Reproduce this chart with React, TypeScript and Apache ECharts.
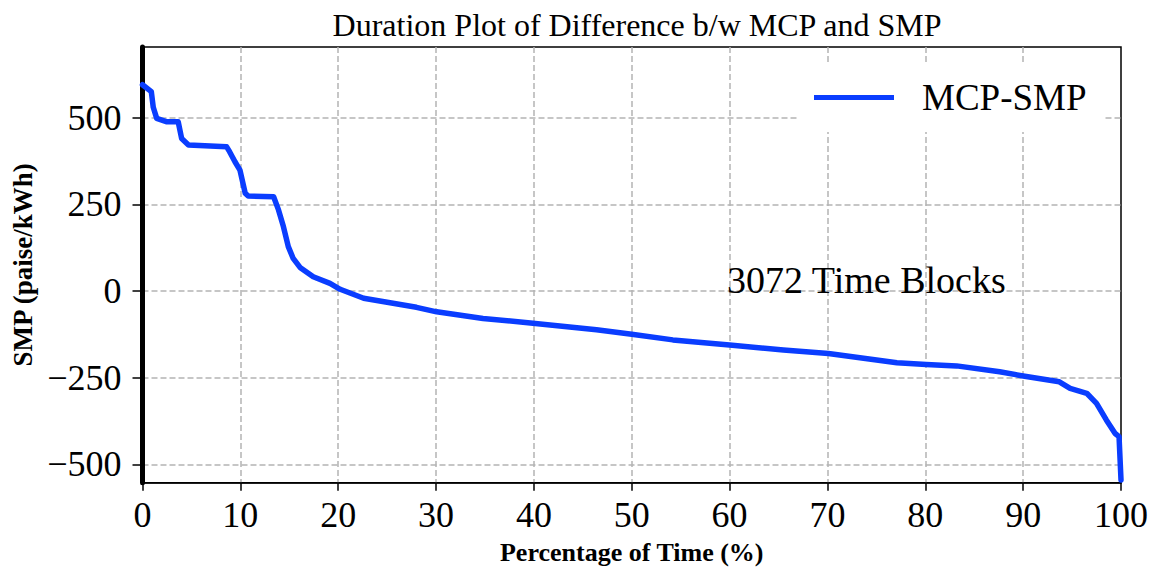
import React, { useEffect, useRef } from "react";
import * as echarts from "echarts";

const pct = [0, 0.9, 1.1, 1.45, 2.5, 3.65, 4.0, 4.7, 8.6, 8.9, 9.45, 9.96, 10.5, 10.8, 13.4, 13.9, 14.4, 14.9, 15.4, 16.1, 17.45, 19.16, 20.2, 22.6, 28.0, 30.06, 34.8, 39.9, 46.4, 50.0, 54.2, 60.0, 65.5, 70.1, 77.1, 80.1, 83.2, 87.6, 90.0, 93.7, 94.8, 96.5, 97.5, 98.5, 99.4, 99.8, 100];
const smp = [595, 575, 530, 498, 488, 488, 440, 421, 416, 402, 373, 349, 282, 274, 272, 234, 186, 128, 94, 68, 41, 22, 5, -21, -47, -60, -79, -93, -112, -125, -141, -156, -170, -180, -207, -212, -216, -233, -245, -262, -281, -295, -324, -372, -411, -420, -545];
const yTicks = [-500, -250, 0, 250, 500];
const seriesName = "MCP-SMP";
const titleText = "Duration Plot of Difference b/w MCP and SMP";
const noteText = "3072 Time Blocks";

const SERIF = "'Liberation Serif', 'Times New Roman', serif";
const BLUE = "#0a3dff";
const GRID = "#b4b4b4";

export default function App() {
  const ref = useRef<HTMLDivElement>(null);
  useEffect(() => {
    if (!ref.current) return;
    const chart = echarts.init(ref.current, null, { renderer: "svg" });
    const fmt = (v: number) => (v < 0 ? "\u2212" + Math.abs(v) : String(v));
    chart.setOption({
      animation: false,
      backgroundColor: "#fff",
      title: {
        text: titleText,
        left: 632,
        textAlign: "center",
        top: 4,
        textStyle: { fontFamily: SERIF, fontSize: 32, fontWeight: "normal", color: "#000" },
      },
      legend: {
        left: 797,
        top: 63,
        padding: [16, 18, 16, 17],
        backgroundColor: "#fff",
        icon: "rect",
        itemWidth: 80,
        itemHeight: 5,
        data: [seriesName],
        itemStyle: { color: BLUE },
        textStyle: { fontFamily: SERIF, fontSize: 37, color: "#000", padding: [0, 0, 0, 23] },
      },
      grid: {
        left: 142.5,
        right: 37,
        top: 47,
        bottom: 90.3,
        show: true,
        borderColor: "#000",
        borderWidth: 1.5,
        containLabel: false,
      },
      xAxis: {
        type: "value",
        min: 0,
        max: 100,
        interval: 10,
        name: "Percentage of Time (%)",
        nameLocation: "middle",
        nameGap: 57,
        nameTextStyle: { fontFamily: SERIF, fontSize: 26, fontWeight: "bold", color: "#000" },
        axisLine: { show: true, onZero: false, lineStyle: { color: "#000", width: 1.5 } },
        axisTick: { show: true, length: 8, lineStyle: { color: "#000", width: 1.5 } },
        axisLabel: {
          fontFamily: SERIF,
          fontSize: 36,
          color: "#000",
          margin: 14,
          formatter: (v: number) => String(v),
        },
        splitLine: {
          show: true,
          showMinLine: false,
          showMaxLine: false,
          lineStyle: { color: GRID, type: [6, 3], width: 1.5 },
        },
      },
      yAxis: {
        type: "value",
        min: -553,
        max: 704,
        name: "SMP (paise/kWh)",
        nameLocation: "middle",
        nameGap: 106,
        nameRotate: 90,
        nameTextStyle: { fontFamily: SERIF, fontSize: 27, fontWeight: "bold", color: "#000" },
        axisLine: { show: true, onZero: false, lineStyle: { color: "#000", width: 5 } },
        axisTick: { show: true, length: 10, customValues: yTicks, lineStyle: { color: "#000", width: 1.5 } },
        axisLabel: {
          fontFamily: SERIF,
          fontSize: 36,
          color: "#000",
          margin: 21,
          customValues: yTicks,
          formatter: (v: number) => fmt(v),
        },
        splitLine: {
          show: true,
          lineStyle: { color: GRID, type: [6, 3], width: 1.5 },
        },
      },
      graphic: [
        {
          type: "text",
          left: 727,
          top: 261,
          z: 10,
          style: { text: noteText, fontFamily: SERIF, fontSize: 38, fill: "#000" },
        },
      ],
      series: [
        {
          name: seriesName,
          type: "line",
          data: pct.map((p, i) => [p, smp[i]]),
          showSymbol: false,
          symbol: "none",
          lineStyle: { color: BLUE, width: 5.5, join: "round", cap: "round" },
          itemStyle: { color: BLUE },
          z: 3,
        },
      ],
    });
    return () => chart.dispose();
  }, []);
  return (
    <div
      ref={ref}
      style={{ position: "fixed", left: 0, top: 0, width: 1158, height: 573 }}
    />
  );
}
